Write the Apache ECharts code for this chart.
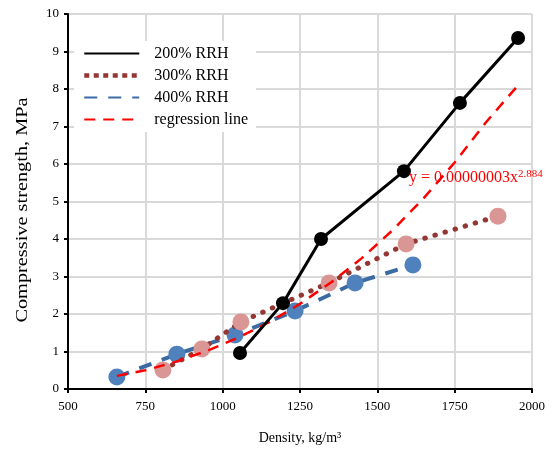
<!DOCTYPE html>
<html>
<head>
<meta charset="utf-8">
<script src="https://cdn.jsdelivr.net/npm/echarts@6/dist/echarts.min.js"></script>
<style>html,body{margin:0;padding:0;background:#fff}#c{width:556px;height:453px}</style>
</head>
<body>
<div id="c"></div>
<script>
var xTicks = [500, 750, 1000, 1250, 1500, 1750, 2000];
var yTicks = [0, 1, 2, 3, 4, 5, 6, 7, 8, 9, 10];

var rrh200Density = [1056, 1195, 1318, 1586, 1767, 1955];
var rrh200Strength = [0.96, 2.29, 4.00, 5.81, 7.63, 9.36];

var rrh300Density = [807, 933, 1059, 1344, 1593, 1890];
var rrh300Strength = [0.51, 1.07, 1.79, 2.83, 3.87, 4.61];

var rrh400Density = [658, 852, 1040, 1234, 1428, 1615];
var rrh400Strength = [0.32, 0.93, 1.44, 2.08, 2.83, 3.31];

var regDensity = [658, 750, 850, 950, 1050, 1150, 1250, 1350, 1450, 1550, 1650, 1750, 1850, 1955];
var regStrength = [0.35, 0.50, 0.73, 1.02, 1.37, 1.78, 2.27, 2.84, 3.49, 4.24, 5.09, 6.04, 7.10, 8.10];

var seriesNames = ['200% RRH', '300% RRH', '400% RRH', 'regression line'];
var equationText = ['y = 0.00000003x', '2.884'];
var xTitle = 'Density, kg/m\u00B3';
var yTitle = 'Compressive strength, MPa';

function pairs(xs, ys) { return xs.map(function (x, i) { return [x, ys[i]]; }); }

var font = 'Liberation Serif, Times New Roman, serif';
var chart = echarts.init(document.getElementById('c'));
chart.setOption({
  animation: false,
  backgroundColor: '#fff',
  textStyle: { fontFamily: font },
  grid: { left: 68, right: 24, top: 14, bottom: 64 },
  legend: {
    data: [
      { name: seriesNames[0] },
      { name: seriesNames[1], lineStyle: { type: [5, 4.5], cap: 'butt', width: 4.5 } },
      { name: seriesNames[2] },
      { name: seriesNames[3] }
    ],
    orient: 'vertical',
    left: 74, top: 41,
    backgroundColor: '#fff',
    padding: [4, 8, 4, 8],
    itemWidth: 55, itemHeight: 14, itemGap: 5,
    itemStyle: { opacity: 0 },
    textStyle: { fontFamily: font, fontSize: 16, lineHeight: 17, color: '#000', padding: [0, 0, 0, 10] }
  },
  xAxis: {
    type: 'value', min: xTicks[0], max: xTicks[xTicks.length - 1], interval: 250,
    name: xTitle, nameLocation: 'middle', nameGap: 42,
    nameTextStyle: { fontFamily: font, fontSize: 14, color: '#000' },
    axisLine: { show: true, lineStyle: { color: '#000', width: 2 } },
    axisTick: { show: true, length: 4, lineStyle: { color: '#000', width: 2 } },
    axisLabel: { fontFamily: font, fontSize: 13, color: '#000', margin: 11, formatter: function (v) { return String(v); } },
    splitLine: { show: true, lineStyle: { color: '#d9d9d9', width: 2 } }
  },
  yAxis: {
    type: 'value', min: yTicks[0], max: yTicks[yTicks.length - 1], interval: 1,
    axisLine: { show: true, lineStyle: { color: '#000', width: 2 } },
    axisTick: { show: true, length: 4, lineStyle: { color: '#000', width: 2 } },
    axisLabel: { fontFamily: font, fontSize: 13, color: '#000', margin: 9, formatter: function (v) { return String(v); } },
    splitLine: { show: true, lineStyle: { color: '#d9d9d9', width: 2 } }
  },
  series: [
    {
      name: seriesNames[2], type: 'line', data: pairs(rrh400Density, rrh400Strength), z: 2,
      symbol: 'circle', symbolSize: 17,
      itemStyle: { color: '#4F81BD' },
      lineStyle: { color: '#3A6BA3', width: 4, type: [13, 11] }
    },
    {
      name: seriesNames[1], type: 'line', data: pairs(rrh300Density, rrh300Strength), z: 3,
      symbol: 'circle', symbolSize: 17,
      itemStyle: { color: '#D99694' },
      lineStyle: { color: '#943634', width: 5, type: [0.5, 10], cap: 'round' }
    },
    {
      name: seriesNames[3], type: 'line', data: pairs(regDensity, regStrength), z: 4,
      symbol: 'none', smooth: false,
      itemStyle: { color: '#FF0000' },
      lineStyle: { color: '#FF0000', width: 2.5, type: [11, 8] }
    },
    {
      name: seriesNames[0], type: 'line', data: pairs(rrh200Density, rrh200Strength), z: 5,
      symbol: 'circle', symbolSize: 14,
      itemStyle: { color: '#000' },
      lineStyle: { color: '#000', width: 3 }
    }
  ],
  graphic: [{
    type: 'text', left: 409, top: 169, z: 100,
    style: {
      rich: {
        a: { fontFamily: font, fontSize: 16, fill: '#FF0000', lineHeight: 18 },
        s: { fontFamily: font, fontSize: 11, fill: '#FF0000', lineHeight: 18, verticalAlign: 'top', padding: [0, 0, 7, 0] }
      },
      text: '{a|' + equationText[0] + '}{s|' + equationText[1] + '}'
    }
  }, {
    type: 'text', x: 23, y: 210, rotation: Math.PI / 2, scaleX: 1.27, z: 100,
    style: {
      text: yTitle, fontFamily: font, fontSize: 16, fill: '#000',
      align: 'center', verticalAlign: 'middle'
    }
  }]
});
</script>
</body>
</html>
